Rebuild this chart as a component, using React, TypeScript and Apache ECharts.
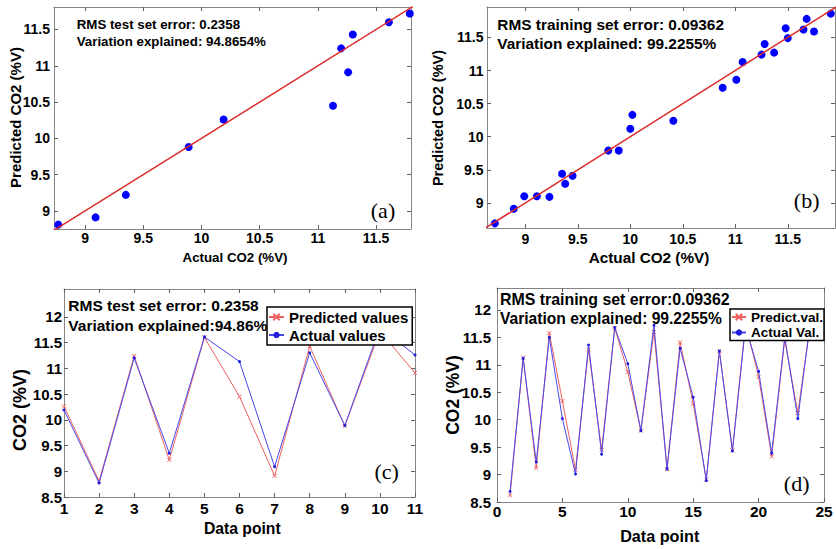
import React, { useEffect, useRef } from 'react';
import * as echarts from 'echarts';

// ---------- DATA ----------
// Test set (panels a and c), ordered by data point 1..11
const testActual = [10.19, 8.77, 11.2, 9.35, 11.61, 11.13, 9.09, 11.3, 9.89, 11.79, 11.26];
const testPredicted = [10.26, 8.81, 11.24, 9.22, 11.6, 10.45, 8.91, 11.43, 9.88, 11.72, 10.91];

// Training set scatter (panel b)
const trainScatterActual = [8.71, 8.89, 8.99, 9.11, 9.23, 9.35, 9.38, 9.45, 9.79, 9.89, 10.0, 10.02, 10.41, 10.88, 11.01, 11.07, 11.25, 11.28, 11.37, 11.48, 11.5, 11.65, 11.68, 11.75, 11.91];
const trainScatterPredicted = [8.69, 8.91, 9.1, 9.1, 9.09, 9.44, 9.29, 9.41, 9.79, 9.79, 10.12, 10.33, 10.24, 10.74, 10.86, 11.13, 11.24, 11.4, 11.27, 11.64, 11.49, 11.62, 11.78, 11.59, 11.86];

// Training set by data point (panel d), points 1..24
const trainActual = [8.69, 11.12, 9.23, 11.5, 10.02, 9.01, 11.36, 9.37, 11.68, 11.02, 9.8, 11.72, 9.1, 11.3, 10.41, 8.89, 11.25, 9.43, 11.7, 10.88, 9.39, 11.5, 10.02, 11.85];
const trainPredicted = [8.62, 11.13, 9.12, 11.58, 10.34, 9.09, 11.28, 9.45, 11.67, 10.87, 9.8, 11.6, 9.1, 11.41, 10.29, 8.91, 11.25, 9.44, 11.76, 10.78, 9.33, 11.46, 10.12, 11.83];

// y = x reference line ends
const fitTest = [8.6, 12];
const fitTrain = [8.5, 12.1];

// tick values
const scatterTicks = [9, 9.5, 10, 10.5, 11, 11.5];
const seriesYTicks = [8.5, 9, 9.5, 10, 10.5, 11, 11.5, 12];
const testXTicks = [1, 2, 3, 4, 5, 6, 7, 8, 9, 10, 11];
const trainXTicks = [0, 5, 10, 15, 20, 25];

const FONT = '"Liberation Sans", Arial, Helvetica, sans-serif';
const SERIF = '"Liberation Serif", "Times New Roman", serif';
const AXIS_COLOR = '#858585';
const RED_LINE = 'rgb(236,96,96)';
const BLUE_LINE = 'rgb(72,72,236)';

function axis(gridIndex: number, position: string, min: number, max: number, ticks: number[], showLabels: boolean, fontSize: number, margin: number) {
  return {
    type: 'value',
    gridIndex,
    position,
    min,
    max,
    axisLine: { show: true, onZero: false, lineStyle: { color: AXIS_COLOR, width: 1 } },
    axisTick: { show: true, inside: true, length: 4, customValues: ticks, lineStyle: { color: '#606060', width: 1 } },
    axisLabel: showLabels
      ? {
          show: true,
          margin,
          color: '#000',
          fontFamily: FONT,
          fontWeight: 'bold',
          fontSize,
          customValues: ticks,
          formatter: (v: number) => String(Math.round(v * 1000) / 1000),
          showMinLabel: true,
          showMaxLabel: true,
        }
      : { show: false },
    splitLine: { show: false },
  };
}

const X_SYMBOL = 'path://M0 0L10 10M10 0L0 10';

function txt(x: number, y: number, text: string, size: number, opts: any = {}) {
  return {
    type: 'text',
    x,
    y,
    rotation: opts.rotation || 0,
    z: 100,
    style: {
      text,
      fill: '#000',
      font: `${opts.weight || 'bold'} ${size}px ${opts.family || FONT}`,
      align: opts.align || 'left',
      verticalAlign: 'middle',
    },
  };
}

export default function App() {
  const ref = useRef<HTMLDivElement>(null);

  useEffect(() => {
    if (!ref.current) return;
    const chart = echarts.init(ref.current, undefined, { renderer: 'svg' });

    const grids = [
      { left: 54, top: 7, width: 357, height: 222 },
      { left: 487, top: 7, width: 348, height: 221 },
      { left: 64, top: 289, width: 351, height: 208 },
      { left: 497, top: 288, width: 327, height: 214 },
    ].map((g) => ({ ...g, show: false, containLabel: false, outerBoundsMode: 'none' }));

    const ax = [
      { min: 8.733, max: 11.8, ticks: scatterTicks, fs: 14, m: 2 },
      { min: 8.635, max: 11.95, ticks: scatterTicks, fs: 14, m: 4 },
      { min: 1, max: 11, ticks: testXTicks, fs: 15.5, m: 3 },
      { min: 0, max: 25, ticks: trainXTicks, fs: 15.5, m: 1 },
    ];
    const ay = [
      { min: 8.75, max: 11.81, ticks: scatterTicks, fs: 14, m: 4 },
      { min: 8.62, max: 11.96, ticks: scatterTicks, fs: 14, m: 3.5 },
      { min: 8.5, max: 12.54, ticks: seriesYTicks, fs: 15, m: 2 },
      { min: 8.5, max: 12.4, ticks: seriesYTicks, fs: 15, m: 6 },
    ];

    const xAxes = [
      ...ax.map((a, i) => axis(i, 'bottom', a.min, a.max, a.ticks, true, a.fs, a.m)),
      ...ax.map((a, i) => axis(i, 'top', a.min, a.max, a.ticks, false, a.fs, a.m)),
    ];
    const yAxes = [
      ...ay.map((a, i) => axis(i, 'left', a.min, a.max, a.ticks, true, a.fs, a.m)),
      ...ay.map((a, i) => axis(i, 'right', a.min, a.max, a.ticks, false, a.fs, a.m)),
    ];

    const redSeries = (name: string, idx: number, data: number[][]) => ({
      name,
      type: 'line',
      xAxisIndex: idx,
      yAxisIndex: idx,
      data,
      symbol: X_SYMBOL,
      symbolSize: 4,
      showSymbol: true,
      lineStyle: { color: RED_LINE, width: 1 },
      itemStyle: { color: RED_LINE, borderColor: RED_LINE, borderWidth: 1 },
      z: 2,
    });
    const blueSeries = (name: string, idx: number, data: number[][]) => ({
      name,
      type: 'line',
      xAxisIndex: idx,
      yAxisIndex: idx,
      data,
      symbol: 'circle',
      symbolSize: 3,
      showSymbol: true,
      lineStyle: { color: BLUE_LINE, width: 1 },
      itemStyle: { color: 'rgb(30,30,220)', borderWidth: 0 },
      z: 3,
    });

    const legendBase = {
      orient: 'vertical',
      backgroundColor: '#fff',
      borderColor: '#000',
      borderWidth: 1.5,
      borderRadius: 0,
      itemHeight: 8,
      selectedMode: false,
      z: 10,
    };

    const option: any = {
      animation: false,
      backgroundColor: '#fff',
      grid: grids,
      xAxis: xAxes,
      yAxis: yAxes,
      legend: [
        {
          ...legendBase,
          data: ['Predicted values', 'Actual values'],
          left: 267,
          top: 307,
          padding: [2, 4, 2, 1],
          itemGap: 2,
          itemWidth: 15,
          textStyle: { fontFamily: FONT, fontWeight: 'bold', fontSize: 15, color: '#000', lineHeight: 16 },
        },
        {
          ...legendBase,
          data: ['Predict.val.', 'Actual Val.'],
          left: 730,
          top: 309,
          padding: [1, 1, 1, 1],
          itemGap: 1.5,
          itemWidth: 14,
          textStyle: { fontFamily: FONT, fontWeight: 'bold', fontSize: 13.5, color: '#000', lineHeight: 14 },
        },
      ],
      series: [
        {
          type: 'scatter',
          xAxisIndex: 0,
          yAxisIndex: 0,
          data: testActual.map((v, i) => [v, testPredicted[i]]),
          symbolSize: 8,
          itemStyle: { color: '#0000ff', opacity: 1 },
          z: 2,
        },
        {
          type: 'line',
          xAxisIndex: 0,
          yAxisIndex: 0,
          data: fitTest.map((v) => [v, v]),
          showSymbol: false,
          lineStyle: { color: '#dd2a2a', width: 1.5 },
          z: 3,
        },
        {
          type: 'scatter',
          xAxisIndex: 1,
          yAxisIndex: 1,
          data: trainScatterActual.map((v, i) => [v, trainScatterPredicted[i]]),
          symbolSize: 8,
          itemStyle: { color: '#0000ff', opacity: 1 },
          z: 2,
        },
        {
          type: 'line',
          xAxisIndex: 1,
          yAxisIndex: 1,
          data: fitTrain.map((v) => [v, v]),
          showSymbol: false,
          lineStyle: { color: '#dd2a2a', width: 1.5 },
          z: 3,
        },
        redSeries('Predicted values', 2, testPredicted.map((v, i) => [i + 1, v])),
        blueSeries('Actual values', 2, testActual.map((v, i) => [i + 1, v])),
        redSeries('Predict.val.', 3, trainPredicted.map((v, i) => [i + 1, v])),
        blueSeries('Actual Val.', 3, trainActual.map((v, i) => [i + 1, v])),
      ],
      graphic: [
        // panel a
        txt(76.7, 24, 'RMS test set error: 0.2358', 13.3),
        txt(76.7, 41.7, 'Variation explained: 94.8654%', 13.3),
        txt(235, 257, 'Actual CO2 (%V)', 13.3, { align: 'center' }),
        txt(15, 117.5, 'Predicted CO2 (%V)', 15, { align: 'center', rotation: Math.PI / 2 }),
        txt(383, 210, '(a)', 22, { align: 'center', weight: 'normal', family: SERIF }),
        // panel b
        txt(497.3, 24, 'RMS training set error: 0.09362', 15.4),
        txt(497.3, 43.3, 'Variation explained: 99.2255%', 15.4),
        txt(649, 257.7, 'Actual CO2 (%V)', 15.3, { align: 'center' }),
        txt(438.3, 118, 'Predicted CO2 (%V)', 14.5, { align: 'center', rotation: Math.PI / 2 }),
        txt(806.7, 200, '(b)', 22, { align: 'center', weight: 'normal', family: SERIF }),
        // panel c
        txt(68.3, 305, 'RMS test set error: 0.2358', 15.5),
        txt(68.3, 325, 'Variation explained:94.86%', 15.5),
        txt(242.3, 528.3, 'Data point', 15.7, { align: 'center' }),
        txt(20, 410, 'CO2 (%V)', 18, { align: 'center', rotation: Math.PI / 2 }),
        txt(386.7, 471.7, '(c)', 22, { align: 'center', weight: 'normal', family: SERIF }),
        // panel d
        txt(500, 299.3, 'RMS training set error:0.09362', 15.9),
        txt(500, 318.3, 'Variation explained: 99.2255%', 15.6),
        txt(659.7, 535.7, 'Data point', 16.2, { align: 'center' }),
        txt(453.3, 395, 'CO2 (%V)', 17.5, { align: 'center', rotation: Math.PI / 2 }),
        txt(796.7, 483.3, '(d)', 22, { align: 'center', weight: 'normal', family: SERIF }),
      ],
    };

    chart.setOption(option);
    return () => chart.dispose();
  }, []);

  return (
    <div
      ref={ref}
      style={{ position: 'absolute', left: 0, top: 0, width: 836, height: 549, background: '#fff' }}
    />
  );
}
